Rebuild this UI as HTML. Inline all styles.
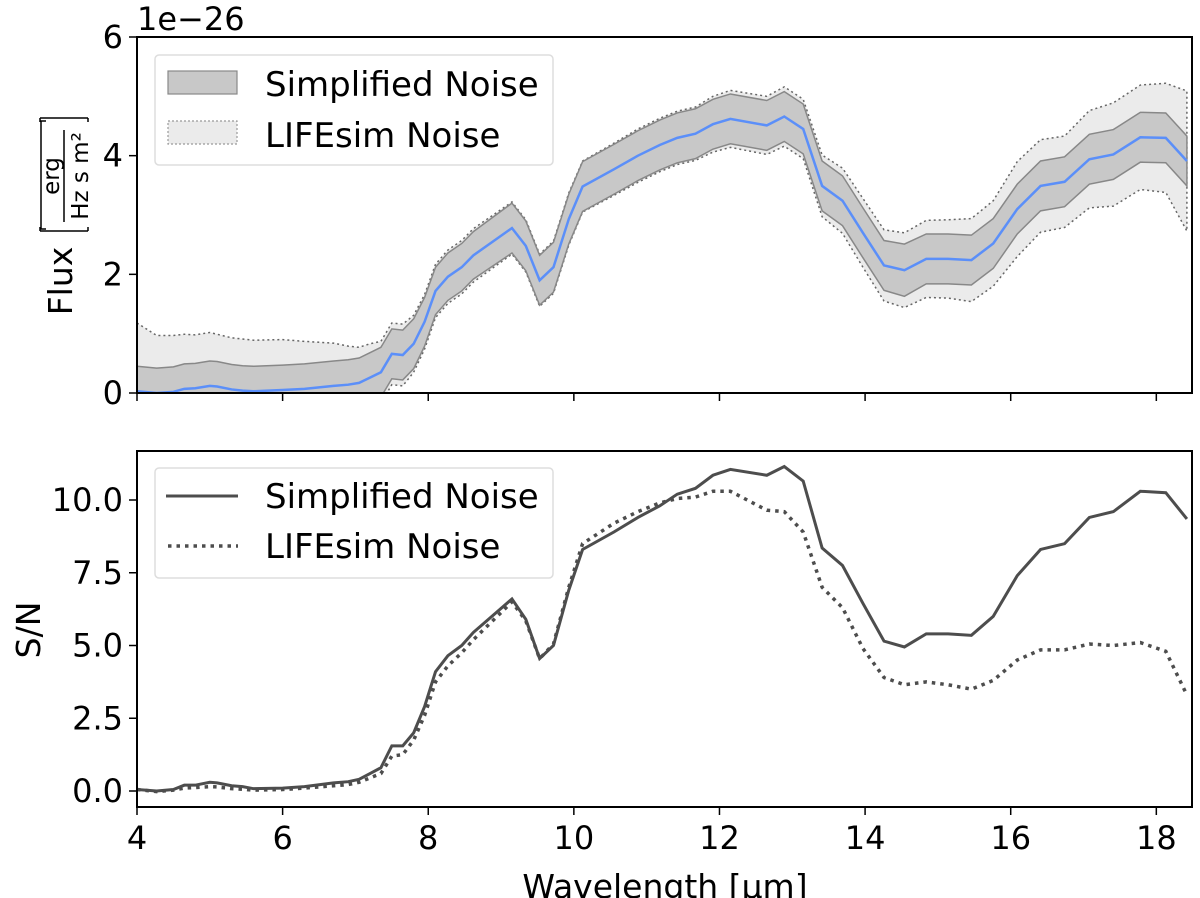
<!DOCTYPE html>
<html><head><meta charset="utf-8"><style>
html,body{margin:0;padding:0;background:#fff}
body{position:relative;width:1200px;height:898px;overflow:hidden}
svg{position:absolute;left:0;top:0}
svg text{font-family:"DejaVu Sans","Liberation Sans",sans-serif;fill:#000}
</style></head><body>
<svg id="chart" width="1200" height="898" viewBox="0 0 1200 898" xmlns="http://www.w3.org/2000/svg">
<defs>
<clipPath id="clipTop"><rect x="137" y="37" width="1055" height="356"/></clipPath>
<clipPath id="clipBot"><rect x="137" y="451" width="1055" height="356"/></clipPath>
</defs>
<g id="topPanel"></g>
<g id="botPanel"></g>
</svg>
<script>
const wavelength=[4.0,4.27,4.5,4.65,4.8,5.0,5.1,5.3,5.45,5.6,6.0,6.3,6.7,6.9,7.05,7.2,7.35,7.5,7.65,7.8,7.95,8.1,8.27,8.46,8.62,9.15,9.34,9.53,9.72,9.93,10.12,10.55,10.88,11.18,11.42,11.67,11.91,12.15,12.65,12.89,13.15,13.41,13.69,13.97,14.26,14.54,14.84,15.14,15.46,15.76,16.09,16.41,16.74,17.08,17.41,17.78,18.13,18.42];
const fluxMean=[0.03,0.0,0.02,0.07,0.08,0.12,0.11,0.06,0.04,0.03,0.05,0.07,0.12,0.14,0.17,0.26,0.35,0.66,0.64,0.83,1.2,1.72,1.96,2.12,2.32,2.78,2.48,1.9,2.12,2.93,3.48,3.77,4.0,4.18,4.3,4.37,4.53,4.62,4.51,4.66,4.45,3.49,3.24,2.7,2.15,2.07,2.26,2.26,2.24,2.52,3.1,3.49,3.56,3.94,4.02,4.31,4.3,3.91];
const sigmaSimplified=[0.42,0.42,0.42,0.42,0.42,0.42,0.42,0.42,0.42,0.42,0.42,0.42,0.42,0.42,0.42,0.42,0.42,0.42,0.42,0.42,0.41,0.4,0.4,0.4,0.4,0.42,0.42,0.42,0.42,0.42,0.42,0.42,0.42,0.42,0.42,0.42,0.42,0.42,0.42,0.42,0.42,0.42,0.42,0.42,0.42,0.44,0.42,0.42,0.42,0.42,0.42,0.42,0.42,0.42,0.42,0.42,0.42,0.42];
const sigmaLifesim=[1.15,0.97,0.95,0.92,0.9,0.9,0.88,0.87,0.87,0.86,0.85,0.8,0.72,0.65,0.6,0.57,0.52,0.52,0.52,0.48,0.46,0.45,0.45,0.45,0.45,0.44,0.44,0.44,0.44,0.44,0.43,0.44,0.45,0.45,0.45,0.45,0.47,0.48,0.49,0.5,0.5,0.52,0.55,0.58,0.6,0.63,0.65,0.66,0.7,0.72,0.8,0.78,0.77,0.82,0.87,0.88,0.92,1.18];
const snrSimplified=[0.05,0.0,0.05,0.2,0.2,0.3,0.28,0.18,0.15,0.08,0.1,0.15,0.28,0.32,0.4,0.6,0.8,1.55,1.55,2.0,2.9,4.1,4.65,5.0,5.45,6.6,5.9,4.55,5.0,6.9,8.3,8.9,9.4,9.8,10.2,10.4,10.85,11.05,10.85,11.15,10.65,8.35,7.75,6.45,5.15,4.95,5.4,5.4,5.35,6.0,7.4,8.3,8.5,9.4,9.6,10.3,10.25,9.35];
const snrLifesim=[0.05,-0.02,0.03,0.1,0.12,0.15,0.14,0.08,0.06,0.03,0.05,0.1,0.18,0.22,0.3,0.45,0.6,1.2,1.25,1.75,2.6,3.75,4.3,4.75,5.2,6.5,5.85,4.55,5.05,7.0,8.5,9.2,9.6,9.9,10.05,10.1,10.3,10.3,9.65,9.6,8.9,7.0,6.3,4.9,3.9,3.65,3.75,3.65,3.5,3.8,4.5,4.85,4.85,5.05,5.0,5.1,4.8,3.3];
const xTicks=[4,6,8,10,12,14,16,18];
const topYTicks=[0,2,4,6];
const botYTicks=[0.0,2.5,5.0,7.5,10.0];

const NS="http://www.w3.org/2000/svg";
const X0=137,X1=1192,XMIN=4,XMAX=18.49;
function sx(v){return X0+(v-XMIN)/(XMAX-XMIN)*(X1-X0);}
function tyTop(v){return 393-v/6*356;}
function tyBot(v){return 791-v*29.1;}
function mk(parent,tag,attrs){const e=document.createElementNS(NS,tag);for(const k in attrs)e.setAttribute(k,attrs[k]);parent.appendChild(e);return e;}
function lineD(xs,ys,fy){return xs.map((x,i)=>(i?'L':'M')+sx(x).toFixed(2)+','+fy(ys[i]).toFixed(2)).join('');}
function bandD(xs,lo,hi,fy){let d=xs.map((x,i)=>(i?'L':'M')+sx(x).toFixed(2)+','+fy(hi[i]).toFixed(2)).join('');for(let i=xs.length-1;i>=0;i--)d+='L'+sx(xs[i]).toFixed(2)+','+fy(lo[i]).toFixed(2);return d+'Z';}

const topG=document.getElementById('topPanel');
const botG=document.getElementById('botPanel');

const gt=mk(topG,'g',{'clip-path':'url(#clipTop)'});
const lHi=fluxMean.map((m,i)=>m+sigmaLifesim[i]), lLo=fluxMean.map((m,i)=>m-sigmaLifesim[i]);
const sHi=fluxMean.map((m,i)=>m+sigmaSimplified[i]), sLo=fluxMean.map((m,i)=>m-sigmaSimplified[i]);
let e=mk(gt,'path',{d:bandD(wavelength,lLo,lHi,tyTop),fill:'#ebebeb',stroke:'#666','stroke-width':1.5,'stroke-dasharray':'2,3'});


e=mk(gt,'path',{d:bandD(wavelength,sLo,sHi,tyTop),fill:'#c8c8c8',stroke:'#888','stroke-width':1.5});


e=mk(gt,'path',{d:lineD(wavelength,fluxMean,tyTop),fill:'none',stroke:'#5b8ff9','stroke-width':2.5});



const gb=mk(botG,'g',{'clip-path':'url(#clipBot)'});
e=mk(gb,'path',{d:lineD(wavelength,snrLifesim,tyBot),fill:'none',stroke:'#4d4d4d','stroke-width':3.5,'stroke-dasharray':'3.5,5'});


e=mk(gb,'path',{d:lineD(wavelength,snrSimplified,tyBot),fill:'none',stroke:'#4d4d4d','stroke-width':3});



function frame(parent,y0,y1,yticks,fy,labels,fmt){
  const r=mk(parent,'rect',{x:X0,y:y0,width:X1-X0,height:y1-y0,fill:'none',stroke:'#000','stroke-width':2});
  
  
  xTicks.forEach(t=>{
    const l=mk(parent,'line',{x1:sx(t),x2:sx(t),y1:y1,y2:y1+8,stroke:'#000','stroke-width':1.5});
    
    
    if(labels){const tx=mk(parent,'text',{x:sx(t),y:y1+42,'font-size':32,'text-anchor':'middle'});tx.textContent=t;
      
      }
  });
  yticks.forEach(t=>{
    const l=mk(parent,'line',{x1:X0-8,x2:X0,y1:fy(t),y2:fy(t),stroke:'#000','stroke-width':1.5});
    
    
    const tx=mk(parent,'text',{x:X0-14,y:fy(t)+11,'font-size':32,'text-anchor':'end'});tx.textContent=fmt(t);
    
    
  });
}
frame(topG,37,393,topYTicks,tyTop,false,t=>String(t));
frame(botG,451,807,botYTicks,tyBot,true,t=>t.toFixed(1));
</script>
<svg width="1200" height="898" viewBox="0 0 1200 898" xmlns="http://www.w3.org/2000/svg">
<text x="137" y="30" font-size="32">1e−26</text>
<g>
  <text transform="translate(72,281) rotate(-90)" font-size="33" text-anchor="middle">Flux</text>
  <path d="M46,121 L41,121 L41,229 L46,229" fill="none" stroke="#000" stroke-width="1.5" transform="rotate(0)"/>
  <path d="M40,118 L88,118 M40,118 L40,122 M88,118 L88,122" fill="none" stroke="#000" stroke-width="1.5"/>
  <path d="M40,231 L88,231 M40,231 L40,227 M88,231 L88,227" fill="none" stroke="#000" stroke-width="1.5"/>
  <line x1="64" y1="130" x2="64" y2="222" stroke="#000" stroke-width="1.5"/>
  <text transform="translate(59,176) rotate(-90)" font-size="23" text-anchor="middle">erg</text>
  <text transform="translate(88,176) rotate(-90)" font-size="23" text-anchor="middle">Hz s m²</text>
</g>
<text transform="translate(40,630) rotate(-90)" font-size="33" text-anchor="middle">S/N</text>
<text x="665" y="898" font-size="33" text-anchor="middle">Wavelength [µm]</text>
<g>
  <rect x="155" y="55" width="398" height="110" rx="4" fill="#fff" fill-opacity="0.8" stroke="#ddd" stroke-width="1.5"/>
  <rect x="168" y="71" width="69" height="23" fill="#c8c8c8" stroke="#888" stroke-width="1.2"/>
  <text x="265" y="96" font-size="34">Simplified Noise</text>
  <rect x="168" y="121" width="69" height="23" fill="#ebebeb" stroke="#999" stroke-width="1.2" stroke-dasharray="2,2"/>
  <text x="265" y="147" font-size="34">LIFEsim Noise</text>
</g>
<g>
  <rect x="155" y="468" width="398" height="110" rx="4" fill="#fff" fill-opacity="0.8" stroke="#ddd" stroke-width="1.5"/>
  <line x1="166" y1="496" x2="238" y2="496" stroke="#4d4d4d" stroke-width="3"/>
  <text x="265" y="508" font-size="34">Simplified Noise</text>
  <line x1="168" y1="546" x2="238" y2="546" stroke="#4d4d4d" stroke-width="3.5" stroke-dasharray="3.5,5"/>
  <text x="265" y="558" font-size="34">LIFEsim Noise</text>
</g>
</svg>
</body></html>
